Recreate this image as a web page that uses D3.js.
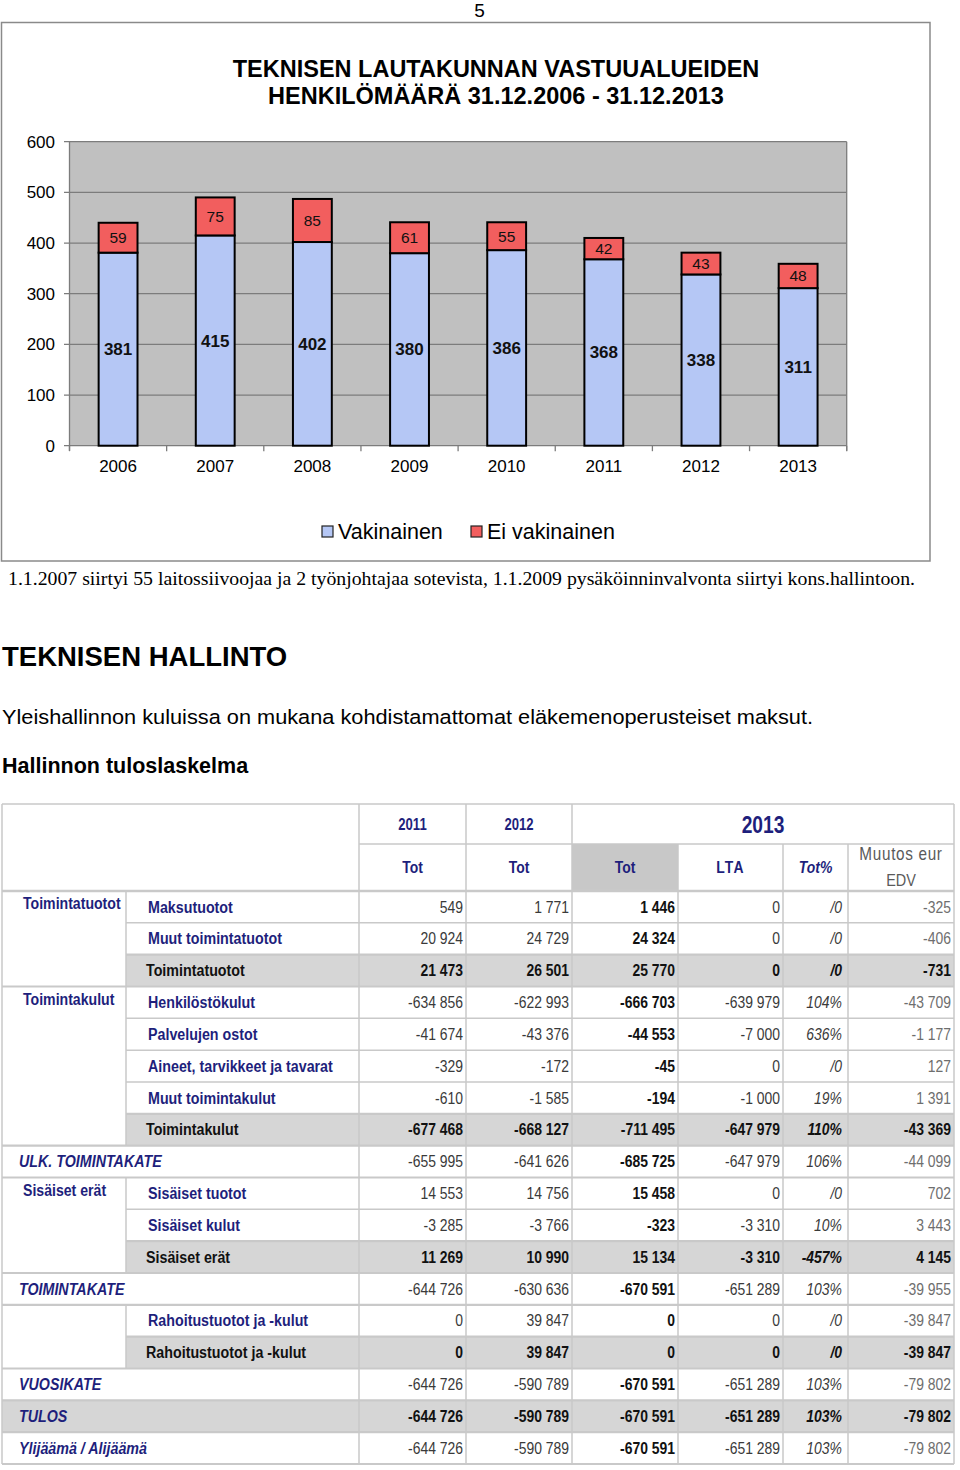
<!DOCTYPE html>
<html>
<head>
<meta charset="utf-8">
<script src="https://cdn.jsdelivr.net/npm/d3@7"></script>
<style>
  html, body { margin: 0; padding: 0; background: #fff; }
  svg { display: block; font-family: "Liberation Sans", Arial, sans-serif; }
</style>
</head>
<body>
<script>
// ---------------- DATA ----------------
const pageNumber = "5";
const chartTitle = ["TEKNISEN LAUTAKUNNAN VASTUUALUEIDEN", "HENKILÖMÄÄRÄ 31.12.2006 - 31.12.2013"];
const years = ["2006", "2007", "2008", "2009", "2010", "2011", "2012", "2013"];
const vakinainen = [381, 415, 402, 380, 386, 368, 338, 311];
const eiVakinainen = [59, 75, 85, 61, 55, 42, 43, 48];
const yTicks = [0, 100, 200, 300, 400, 500, 600];
const seriesNames = ["Vakinainen", "Ei vakinainen"];
const caption = "1.1.2007 siirtyi 55 laitossiivoojaa ja 2 työnjohtajaa sotevista, 1.1.2009 pysäköinninvalvonta siirtyi kons.hallintoon.";
const heading = "TEKNISEN HALLINTO";
const paragraph = "Yleishallinnon kuluissa on mukana kohdistamattomat eläkemenoperusteiset maksut.";
const subheading = "Hallinnon tuloslaskelma";

// table
const headYears = ["2011", "2012", "2013"];
const headCols = ["Tot", "Tot", "Tot", "LTA", "Tot%", "Muutos eur|EDV"];
const rowLabels = ["Maksutuotot", "Muut toimintatuotot", "Toimintatuotot", "Henkilöstökulut", "Palvelujen ostot",
  "Aineet, tarvikkeet ja tavarat", "Muut toimintakulut", "Toimintakulut", "ULK. TOIMINTAKATE", "Sisäiset tuotot",
  "Sisäiset kulut", "Sisäiset erät", "TOIMINTAKATE", "Rahoitustuotot ja -kulut", "Rahoitustuotot ja -kulut",
  "VUOSIKATE", "TULOS", "Ylijäämä / Alijäämä"];
const rowTypes = ["item", "item", "sub", "item", "item", "item", "item", "sub", "total", "item",
  "item", "sub", "total", "item", "sub", "total", "totalgray", "total"];
const groupLabels = ["Toimintatuotot", "Toimintakulut", "Sisäiset erät", ""];
const groupStarts = [0, 3, 9, 13];
const groupSpans = [3, 5, 3, 2];
const tot2011 = [549, 20924, 21473, -634856, -41674, -329, -610, -677468, -655995, 14553, -3285, 11269, -644726, 0, 0, -644726, -644726, -644726];
const tot2012 = [1771, 24729, 26501, -622993, -43376, -172, -1585, -668127, -641626, 14756, -3766, 10990, -630636, 39847, 39847, -590789, -590789, -590789];
const tot2013 = [1446, 24324, 25770, -666703, -44553, -45, -194, -711495, -685725, 15458, -323, 15134, -670591, 0, 0, -670591, -670591, -670591];
const lta2013 = [0, 0, 0, -639979, -7000, 0, -1000, -647979, -647979, 0, -3310, -3310, -651289, 0, 0, -651289, -651289, -651289];
const totPct = [null, null, null, 104, 636, null, 19, 110, 106, null, 10, -457, 103, null, null, 103, 103, 103];
const muutosEdv = [-325, -406, -731, -43709, -1177, 127, 1391, -43369, -44099, 702, 3443, 4145, -39955, -39847, -39847, -79802, -79802, -79802];

// ---------------- LAYOUT ----------------
const W = 960, H = 1470;
const svg = d3.select("body").append("svg").attr("width", W).attr("height", H);

const navy = "#1e1f7c";
const blue = "#b5c7f5";
const red = "#f25e5e";

svg.append("text").attr("x", 479.5).attr("y", 17).attr("text-anchor", "middle")
  .attr("font-size", 19).text(pageNumber);

// chart frame
svg.append("rect").attr("x", 1.5).attr("y", 22.5).attr("width", 928.5).attr("height", 538.5)
  .attr("fill", "#fff").attr("stroke", "#8a8a8a").attr("stroke-width", 1.5);

chartTitle.forEach((t, i) => {
  svg.append("text").attr("x", 496).attr("y", 77 + i * 27.3).attr("text-anchor", "middle")
    .attr("font-size", 23.5).attr("font-weight", "bold").attr("fill", "#000").text(t);
});

const plot = { left: 69.5, right: 846.7, top: 141.7, bottom: 445.7 };
const y = d3.scaleLinear().domain([0, 600]).range([plot.bottom, plot.top]);
const x = d3.scaleBand().domain(years).range([plot.left, plot.right]).paddingInner(0.6).paddingOuter(0.3);

svg.append("rect").attr("x", plot.left).attr("y", plot.top)
  .attr("width", plot.right - plot.left).attr("height", plot.bottom - plot.top).attr("fill", "#c0c0c0");

// gridlines + y ticks
const gy = svg.append("g");
gy.selectAll("line").data(yTicks).join("line")
  .attr("x1", plot.left - 5.5).attr("x2", plot.right)
  .attr("y1", d => y(d)).attr("y2", d => y(d))
  .attr("stroke", "#7c7c7c").attr("stroke-width", 1.3);
gy.selectAll("text").data(yTicks).join("text")
  .attr("x", 55).attr("y", d => y(d)).attr("dy", "0.35em").attr("text-anchor", "end")
  .attr("font-size", 17).attr("fill", "#000").text(d => d);

// plot borders
svg.append("line").attr("x1", plot.left).attr("x2", plot.left).attr("y1", plot.top).attr("y2", plot.bottom + 5)
  .attr("stroke", "#7c7c7c").attr("stroke-width", 1.3);
svg.append("line").attr("x1", plot.right).attr("x2", plot.right).attr("y1", plot.top).attr("y2", plot.bottom + 5)
  .attr("stroke", "#7c7c7c").attr("stroke-width", 1.3);

// x ticks at band boundaries
const edges = d3.range(years.length + 1).map(i => plot.left + i * x.step());
svg.append("g").selectAll("line").data(edges).join("line")
  .attr("x1", d => d).attr("x2", d => d).attr("y1", plot.bottom).attr("y2", plot.bottom + 5.5)
  .attr("stroke", "#7c7c7c").attr("stroke-width", 1.3);
svg.append("g").selectAll("text").data(years).join("text")
  .attr("x", d => x(d) + x.bandwidth() / 2).attr("y", 472).attr("text-anchor", "middle")
  .attr("font-size", 17).attr("fill", "#000").text(d => d);

// stacked bars
const stackData = years.map((yr, i) => ({ year: yr, v: vakinainen[i], e: eiVakinainen[i] }));
const bars = svg.append("g");
bars.selectAll("rect.v").data(stackData).join("rect").attr("class", "v")
  .attr("x", d => x(d.year)).attr("width", x.bandwidth())
  .attr("y", d => y(d.v)).attr("height", d => y(0) - y(d.v))
  .attr("fill", blue).attr("stroke", "#000").attr("stroke-width", 2);
bars.selectAll("rect.e").data(stackData).join("rect").attr("class", "e")
  .attr("x", d => x(d.year)).attr("width", x.bandwidth())
  .attr("y", d => y(d.v + d.e)).attr("height", d => y(d.v) - y(d.v + d.e))
  .attr("fill", red).attr("stroke", "#000").attr("stroke-width", 2);
bars.selectAll("text.v").data(stackData).join("text").attr("class", "v")
  .attr("x", d => x(d.year) + x.bandwidth() / 2).attr("y", d => y(d.v / 2)).attr("dy", "0.35em")
  .attr("text-anchor", "middle").attr("font-size", 17).attr("font-weight", "bold").attr("fill", "#111")
  .text(d => d.v);
bars.selectAll("text.e").data(stackData).join("text").attr("class", "e")
  .attr("x", d => x(d.year) + x.bandwidth() / 2).attr("y", d => y(d.v + d.e / 2)).attr("dy", "0.35em")
  .attr("text-anchor", "middle").attr("font-size", 15.5).attr("fill", "#111")
  .text(d => d.e);

// legend
const legendX = [322, 471];
const legendColors = [blue, red];
seriesNames.forEach((n, i) => {
  svg.append("rect").attr("x", legendX[i]).attr("y", 526).attr("width", 11).attr("height", 11)
    .attr("fill", legendColors[i]).attr("stroke", "#222").attr("stroke-width", 1.2);
  svg.append("text").attr("x", legendX[i] + 16).attr("y", 538.5).attr("font-size", 21.5)
    .attr("fill", "#000").text(n);
});

// caption & texts
svg.append("text").attr("x", 8).attr("y", 585)
  .style("font-family", "'Liberation Serif', 'Times New Roman', serif")
  .attr("font-size", 18).attr("textLength", 907).attr("lengthAdjust", "spacingAndGlyphs").text(caption);
svg.append("text").attr("x", 2).attr("y", 666).attr("font-size", 27.5).attr("font-weight", "bold").text(heading);
svg.append("text").attr("x", 2).attr("y", 724).attr("font-size", 20.5)
  .attr("textLength", 811).attr("lengthAdjust", "spacingAndGlyphs").text(paragraph);
svg.append("text").attr("x", 2).attr("y", 773).attr("font-size", 21.5).attr("font-weight", "bold").text(subheading);

// ---------------- TABLE ----------------
const colEdges = [2, 126, 359, 466, 572, 678, 783, 848, 954];
const tTop = 804, hMid = 844, hBot = 891, tBot = 1464;
const rowY = d3.scaleBand().domain(d3.range(rowLabels.length)).range([hBot, tBot]);
const locale = d3.formatLocale({ decimal: ",", thousands: " ", grouping: [3], currency: ["", ""], minus: "-" });
const fmt = locale.format(",d");
const lineC = "#c9c9c9";
const tg = svg.append("g");
const SX = 0.82;
const LSX = 0.84;

function tx(g, xx, yy, s, o) {
  o = o || {};
  return g.append("text")
    .attr("transform", `translate(${xx},${yy}) scale(${o.sx || SX},1)`)
    .attr("text-anchor", o.anchor || "start")
    .attr("font-size", o.size || 17)
    .attr("font-weight", o.weight || "normal")
    .attr("font-style", o.style || "normal")
    .attr("letter-spacing", o.ls || 0)
    .attr("fill", o.fill || "#000").text(s);
}

// gray fills
rowTypes.forEach((t, i) => {
  if (t === "sub") tg.append("rect").attr("x", colEdges[1]).attr("y", rowY(i)).attr("width", colEdges[8] - colEdges[1])
    .attr("height", rowY.bandwidth()).attr("fill", "#d6d6d6");
  if (t === "totalgray") tg.append("rect").attr("x", colEdges[0]).attr("y", rowY(i)).attr("width", colEdges[8] - colEdges[0])
    .attr("height", rowY.bandwidth()).attr("fill", "#d6d6d6");
});
tg.append("rect").attr("x", colEdges[4]).attr("y", hMid).attr("width", colEdges[5] - colEdges[4])
  .attr("height", hBot - hMid).attr("fill", "#c8c8c8");

// grid lines
function hl(x1, x2, yy, w) {
  tg.append("line").attr("x1", x1).attr("x2", x2).attr("y1", yy).attr("y2", yy)
    .attr("stroke", lineC).attr("stroke-width", w || 1.5);
}
function vl(xx, y1, y2, w) {
  tg.append("line").attr("x1", xx).attr("x2", xx).attr("y1", y1).attr("y2", y2)
    .attr("stroke", lineC).attr("stroke-width", w || 1.5);
}
hl(colEdges[0], colEdges[8], tTop, 1.5);
hl(colEdges[2], colEdges[8], hMid, 1.5);
hl(colEdges[0], colEdges[8], hBot, 2.5);
hl(colEdges[0], colEdges[8], tBot, 2);
const inGroup = new Set();
groupStarts.forEach((s, gi) => { for (let k = s + 1; k < s + groupSpans[gi]; k++) inGroup.add(k); });
d3.range(1, rowLabels.length).forEach(i => {
  const interior = inGroup.has(i);
  const heavy = !interior || rowTypes[i] === "sub" || rowTypes[i] === "totalgray" || rowTypes[i - 1] === "totalgray";
  hl(interior ? colEdges[1] : colEdges[0], colEdges[8], rowY(i), heavy ? 2.2 : 1.5);
});
vl(colEdges[0], tTop, tBot);
vl(colEdges[8], tTop, tBot);
[2, 3, 4].forEach(c => vl(colEdges[c], tTop, tBot));
[5, 6, 7].forEach(c => vl(colEdges[c], hMid, tBot));
groupStarts.forEach((s, gi) => vl(colEdges[1], rowY(s), rowY(s) + groupSpans[gi] * rowY.bandwidth()));

// header
headYears.slice(0, 2).forEach((t, i) => {
  tx(tg, (colEdges[2 + i] + colEdges[3 + i]) / 2, 830, t, { anchor: "middle", size: 16, weight: "bold", fill: navy });
});
tx(tg, (colEdges[4] + colEdges[8]) / 2, 832.5, headYears[2], { anchor: "middle", size: 24, fill: navy, sx: 0.8, weight: "bold" });
headCols.forEach((t, i) => {
  const cx = (colEdges[2 + i] + colEdges[3 + i]) / 2;
  if (i === 5) {
    const parts = t.split("|");
    tx(tg, cx, 860, parts[0], { anchor: "middle", size: 18, fill: "#5a5a5a", sx: 0.85, ls: 0.8 });
    tx(tg, cx, 886, parts[1], { anchor: "middle", size: 17, fill: "#5a5a5a", sx: 0.85 });
  } else {
    tx(tg, cx, 872.5, t, {
      anchor: "middle", size: 17, weight: "bold", fill: navy,
      style: i === 4 ? "italic" : "normal", ls: i === 3 ? 1.5 : 0
    });
  }
});

// group labels
groupLabels.forEach((g, gi) => {
  if (g) tx(tg, 23, rowY(groupStarts[gi]) + 18, g, { size: 17, weight: "bold", fill: navy, sx: 0.83 });
});

// rows
const numCols = [tot2011, tot2012, tot2013, lta2013, totPct, muutosEdv];
rowLabels.forEach((lab, i) => {
  const t = rowTypes[i];
  const by = rowY(i) + 21.5;
  if (t === "item") tx(tg, 148, by, lab, { weight: "bold", fill: navy, sx: LSX });
  else if (t === "sub") tx(tg, 146, by, lab, { weight: "bold", fill: "#111", sx: LSX });
  else tx(tg, 19, by, lab, { weight: "bold", style: "italic", fill: navy, sx: LSX });
  const allBold = (t === "sub" || t === "totalgray");
  numCols.forEach((arr, c) => {
    const v = arr[i];
    const s = c === 4 ? (v === null ? "/0" : v + "%") : fmt(v);
    const bold = allBold || c === 2;
    let fill = bold ? "#111" : "#3a3a3a";
    if (!bold && c === 5) fill = "#6e6e6e";
    tx(tg, colEdges[3 + c] - (c === 4 ? 6 : 3), by, s, {
      anchor: "end", size: 17, weight: bold ? "bold" : "normal",
      style: c === 4 ? "italic" : "normal", fill: fill
    });
  });
});
</script>
</body>
</html>
